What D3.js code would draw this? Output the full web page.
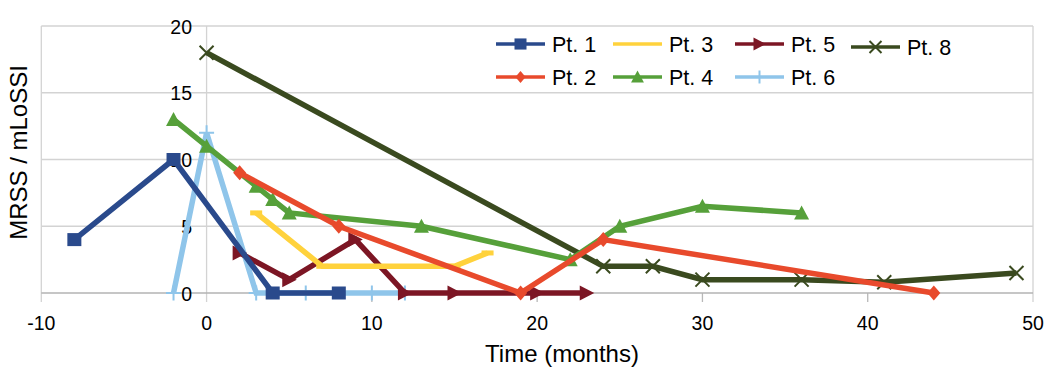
<!DOCTYPE html>
<html>
<head>
<meta charset="utf-8">
<script src="https://cdn.jsdelivr.net/npm/d3@7"></script>
<style>
  html, body { margin: 0; padding: 0; background: #fff; }
  svg { display: block; font-family: "Liberation Sans", Arial, sans-serif; }
</style>
</head>
<body>
<svg id="chart" width="1051" height="376"></svg>
<script>
// ---- data ----
const seriesNames = ["Pt. 1", "Pt. 2", "Pt. 3", "Pt. 4", "Pt. 5", "Pt. 6", "Pt. 8"];
const pt1X = [-8, -2, 4, 8];
const pt1Y = [4, 10, 0, 0];
const pt2X = [2, 8, 19, 24, 44];
const pt2Y = [9, 5, 0, 4, 0];
const pt3X = [3, 7, 15, 17];
const pt3Y = [6, 2, 2, 3];
const pt4X = [-2, 0, 3, 4, 5, 13, 22, 25, 30, 36];
const pt4Y = [13, 11, 8, 7, 6, 5, 2.5, 5, 6.5, 6];
const pt5X = [2, 5, 9, 12, 15, 20, 23];
const pt5Y = [3, 1, 4, 0, 0, 0, 0];
const pt6X = [-2, 0, 3, 6, 10, 12];
const pt6Y = [0, 12, 0, 0, 0, 0];
const pt8X = [0, 24, 27, 30, 36, 41, 49];
const pt8Y = [18, 2, 2, 1, 1, 0.8, 1.5];
const xTicks = [-10, 0, 10, 20, 30, 40, 50];
const yTicks = [0, 5, 10, 15, 20];
const xTitle = "Time (months)";
const yTitle = "MRSS / mLoSSI";

// ---- styles ----
const colors = ["#2a4a8c", "#e84a2c", "#ffd23c", "#56a03a", "#7c1624", "#8fc5ea", "#3a4a1f"];
const markers = ["square", "diamond", "hbar", "triangle", "tri-right", "plus", "cross"];
const xs = [pt1X, pt2X, pt3X, pt4X, pt5X, pt6X, pt8X];
const ys = [pt1Y, pt2Y, pt3Y, pt4Y, pt5Y, pt6Y, pt8Y];
const series = seriesNames.map((n, i) => ({
  name: n, color: colors[i], marker: markers[i],
  pts: xs[i].map((x, j) => ({x, y: ys[i][j]}))
}));

const svg = d3.select("#chart");
const L = 41.3, R = 1033, T = 26, B = 293;
const x = d3.scaleLinear().domain([-10, 50]).range([L, R]);
const y = d3.scaleLinear().domain([0, 20]).range([B, T]);

// grid
const g = svg.append("g");
g.selectAll("line.hg").data(yTicks.filter(d => d > 0)).enter().append("line")
  .attr("x1", L).attr("x2", R).attr("y1", d => y(d)).attr("y2", d => y(d))
  .attr("stroke", "#d3d3d3").attr("stroke-width", 1.3);
// vertical border lines / ticks at -10, 50 and y axis at 0
g.selectAll("line.vg").data(xTicks).enter().append("line")
  .attr("x1", d => x(d)).attr("x2", d => x(d))
  .attr("y1", d => (d === -10 || d === 0 || d === 50) ? T : B)
  .attr("y2", B + 9)
  .attr("stroke", d => (d === 0 || d === -10 || d === 50) ? "#d3d3d3" : "#b8b8b8")
  .attr("stroke-width", 1.3);
// x axis line
g.append("line").attr("x1", L).attr("x2", R).attr("y1", B).attr("y2", B)
  .attr("stroke", "#b3b3b3").attr("stroke-width", 1.5);

// tick labels
svg.append("g").selectAll("text").data(xTicks).enter().append("text")
  .attr("x", d => x(d)).attr("y", 330).attr("text-anchor", "middle")
  .attr("font-size", 19.5).attr("fill", "#000").text(d => d);
svg.append("g").selectAll("text").data(yTicks).enter().append("text")
  .attr("x", 192).attr("y", d => y(d) + 7.5).attr("text-anchor", "end")
  .attr("font-size", 19.5).attr("fill", "#000").text(d => d);

// titles
svg.append("text").attr("x", 562).attr("y", 362).attr("text-anchor", "middle")
  .attr("font-size", 24).text(xTitle);
svg.append("text").attr("transform", "translate(27,152.5) rotate(-90)")
  .attr("text-anchor", "middle").attr("font-size", 24).text(yTitle);

// marker drawing
function drawMarker(sel, type, color, s) {
  const k = s / 14;
  if (type === "square") {
    sel.append("rect").attr("x", -7 * k).attr("y", -6.5 * k).attr("width", 14 * k).attr("height", 13 * k).attr("fill", color);
  } else if (type === "diamond") {
    sel.append("path").attr("d", `M0,${-7.5*k}L${6.5*k},0L0,${7.5*k}L${-6.5*k},0Z`).attr("fill", color);
  } else if (type === "triangle") {
    sel.append("path").attr("d", `M0,${-7.5*k}L${7.5*k},${6.5*k}L${-7.5*k},${6.5*k}Z`).attr("fill", color);
  } else if (type === "tri-right") {
    sel.append("path").attr("d", `M${7.5*k},0L${-7*k},${-7.5*k}L${-7*k},${7.5*k}Z`).attr("fill", color);
  } else if (type === "hbar") {
    sel.append("rect").attr("x", -6 * k).attr("y", -2.5).attr("width", 12 * k).attr("height", 5).attr("fill", color);
  } else if (type === "plus") {
    sel.append("path").attr("d", `M0,${-7.5*k}V${7.5*k}M${-7.5*k},0H${7.5*k}`).attr("stroke", color).attr("stroke-width", 2).attr("fill", "none");
  } else if (type === "cross") {
    sel.append("path").attr("d", `M${-7*k},${-7*k}L${7*k},${7*k}M${7*k},${-7*k}L${-7*k},${7*k}`).attr("stroke", color).attr("stroke-width", 2).attr("fill", "none");
  }
}

const line = d3.line().x(d => x(d.x)).y(d => y(d.y));
// draw in reverse order so Pt. 1 ends on top
const plot = svg.append("g");
series.slice().reverse().forEach(s => {
  const sg = plot.append("g");
  sg.append("path").attr("d", line(s.pts)).attr("fill", "none")
    .attr("stroke", s.color).attr("stroke-width", 5.5).attr("stroke-linejoin", "miter").attr("stroke-miterlimit", 3);
  s.pts.forEach(p => {
    const m = sg.append("g").attr("transform", `translate(${x(p.x)},${y(p.y)})`);
    drawMarker(m, s.marker, s.color, 14);
  });
});

// legend
const colX = [496, 613, 735, 851];
const rowY = [44, 77];
const legendPos = [[0,0],[0,1],[1,0],[1,1],[2,0],[2,1],[3,0]];
const lg = svg.append("g");
series.forEach((s, i) => {
  const [c, r] = legendPos[i];
  const dy = (i === 6) ? 3 : 0;
  const gx = colX[c], gy = rowY[r] + dy;
  const it = lg.append("g").attr("transform", `translate(${gx},${gy})`);
  it.append("line").attr("x1", 0).attr("x2", 49).attr("y1", 0).attr("y2", 0)
    .attr("stroke", s.color).attr("stroke-width", 3.5);
  const m = it.append("g").attr("transform", "translate(24.5,0)");
  if (s.marker !== "hbar") drawMarker(m, s.marker, s.color, s.marker === "diamond" ? 11 : 12);
  it.append("text").attr("x", 56).attr("y", 7.5).attr("font-size", 21.5).text(s.name);
});
</script>
</body>
</html>
